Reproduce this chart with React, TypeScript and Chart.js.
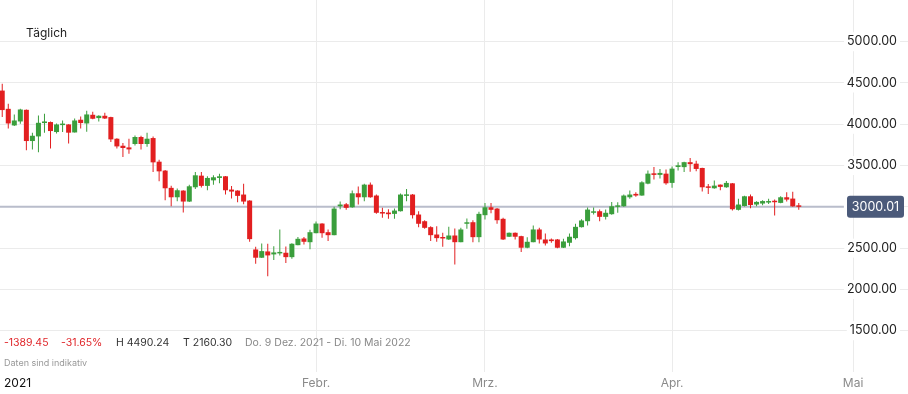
import React, { useEffect, useRef } from "react";
import { Chart, registerables } from "chart.js";

Chart.register(...registerables);

// Day index counted from 1 Dec 2021 (day 0); first candle = 11 Dec 2021
const firstDay = 10;

const opens = [
  4408, 4187, 3986, 4034, 4175, 3797, 3853, 4015, 4027, 3906,
  3990, 3998, 3901, 4055, 4010, 4115, 4075, 4103, 4087, 3825,
  3740, 3720, 3761, 3846, 3761, 3833, 3547, 3439, 3230, 3116,
  3197, 3064, 3237, 3378, 3254, 3321, 3350, 3370, 3209, 3197,
  3149, 3076, 2484, 2384, 2460, 2424, 2436, 2444, 2391, 2536,
  2617, 2572, 2681, 2798, 2693, 2657, 3007, 3031, 2995, 3164,
  3116, 3269, 3137, 2931, 2931, 2915, 2947, 3133, 3149, 2907,
  2826, 2754, 2665, 2633, 2605, 2653, 2572, 2795, 2814, 2633,
  2899, 2995, 2979, 2855, 2638, 2686, 2645, 2505, 2572, 2726,
  2605, 2605, 2605, 2505, 2565, 2621, 2754, 2826, 2928, 2947,
  2879, 2911, 3000, 3007, 3116, 3157, 3137, 3281, 3406, 3387,
  3402, 3290, 3483, 3481, 3541, 3523, 3471, 3245, 3225, 3269,
  3237, 3285, 2964, 3010, 3128, 3028, 3040, 3052, 3070, 3048,
  3116, 3100, 3016,
];

const highs = [
  4490.24, 4248, 4119, 4187, 4180, 3898, 4107, 4127, 4035, 4010,
  4046, 4000, 4070, 4094, 4163, 4151, 4110, 4139, 4092, 3830,
  3773, 3825, 3865, 3861, 3898, 3853, 3571, 3445, 3257, 3221,
  3200, 3269, 3423, 3423, 3370, 3382, 3402, 3375, 3254, 3200,
  3281, 3080, 2518, 2557, 2553, 2524, 2726, 2520, 2560, 2634,
  2634, 2722, 2822, 2800, 2726, 3000, 3064, 3048, 3197, 3245,
  3281, 3294, 3149, 2988, 2971, 2979, 3161, 3217, 3155, 2947,
  2838, 2766, 2766, 2686, 2758, 2738, 2746, 2859, 2838, 2940,
  3048, 3048, 2985, 2867, 2690, 2690, 2650, 2633, 2774, 2746,
  2677, 2617, 2610, 2613, 2677, 2795, 2850, 2992, 2992, 2967,
  2967, 3060, 3056, 3149, 3197, 3176, 3309, 3439, 3483, 3459,
  3451, 3490, 3539, 3547, 3592, 3559, 3475, 3278, 3318, 3272,
  3314, 3290, 3097, 3133, 3149, 3068, 3080, 3098, 3088, 3128,
  3176, 3182, 3046,
];

const lows = [
  4087, 3950, 3978, 4006, 3684, 3696, 3660, 3898, 3708, 3889,
  3906, 3768, 3901, 3950, 3910, 4060, 4034, 4065, 3785, 3708,
  3604, 3644, 3744, 3696, 3728, 3423, 3309, 3080, 3007, 3068,
  2931, 3060, 3217, 3233, 3201, 3269, 3285, 3149, 3100, 3056,
  3031, 2577, 2311, 2380, 2160.3, 2355, 2412, 2319, 2372, 2536,
  2545, 2488, 2681, 2626, 2585, 2655, 2971, 2964, 2990, 3028,
  3068, 3110, 2915, 2867, 2855, 2855, 2945, 3068, 2859, 2754,
  2734, 2585, 2577, 2517, 2600, 2303, 2570, 2734, 2572, 2572,
  2847, 2923, 2795, 2600, 2634, 2605, 2452, 2500, 2570, 2557,
  2532, 2565, 2500, 2502, 2524, 2605, 2750, 2774, 2907, 2826,
  2847, 2903, 2928, 3000, 3097, 3121, 3133, 3273, 3330, 3342,
  3269, 3230, 3439, 3423, 3426, 3430, 3185, 3157, 3220, 3201,
  3232, 2955, 2955, 3005, 2983, 3007, 3019, 3036, 2895, 3045,
  3064, 3000, 2965,
];

const closes = [
  4172, 4010, 4046, 4179, 3797, 3861, 4018, 4034, 3918, 3998,
  3998, 3898, 4046, 4015, 4119, 4067, 4103, 4070, 3817, 3732,
  3713, 3696, 3846, 3761, 3825, 3539, 3430, 3225, 3116, 3201,
  3064, 3249, 3382, 3254, 3350, 3358, 3370, 3201, 3185, 3133,
  3064, 2609, 2384, 2464, 2412, 2448, 2448, 2391, 2553, 2613,
  2577, 2693, 2798, 2681, 2657, 2979, 3028, 2988, 3164, 3116,
  3269, 3116, 2928, 2919, 2911, 2955, 3149, 3145, 2899, 2795,
  2746, 2657, 2621, 2617, 2653, 2572, 2726, 2807, 2633, 2915,
  2995, 2964, 2838, 2605, 2686, 2638, 2505, 2577, 2726, 2605,
  2557, 2585, 2505, 2581, 2638, 2758, 2835, 2967, 2943, 2879,
  2928, 3007, 3016, 3137, 3149, 3137, 3297, 3402, 3387, 3411,
  3285, 3463, 3503, 3541, 3517, 3459, 3237, 3230, 3257, 3242,
  3290, 2971, 3028, 3128, 3022, 3060, 3070, 3070, 3056, 3116,
  3088, 3006, 3000.01,
];

// Month ticks (day index from 1 Dec 2021)
const monthTicks = [62, 90, 121, 151];
const monthLabels = ["Febr.", "Mrz.", "Apr.", "Mai"];
const yTicks = [1500, 2000, 2500, 3000, 3500, 4000, 4500, 5000];
const lastPrice = 3000.01;

const UP = "#3a9e3c";
const DOWN = "#e21f20";
const FONT = "Inter, 'Noto Sans', sans-serif";

const priceLinePlugin = {
  id: "priceLine",
  beforeDatasetsDraw(chart: any) {
    const { ctx, chartArea, scales } = chart;
    const py = scales.y.getPixelForValue(lastPrice);
    ctx.save();
    ctx.strokeStyle = "#b9bdcb";
    ctx.lineWidth = 2;
    ctx.beginPath();
    ctx.moveTo(chartArea.left, py);
    ctx.lineTo(chartArea.right - 61, py);
    ctx.stroke();
    ctx.restore();
  },
  afterDraw(chart: any) {
    const { ctx, chartArea, scales } = chart;
    const py = scales.y.getPixelForValue(lastPrice);
    const w = 57;
    const h = 22;
    const x = chartArea.right - 61;
    const y = py - h / 2;
    ctx.save();
    ctx.fillStyle = "#4b5a7a";
    ctx.beginPath();
    (ctx as any).roundRect(x, y, w, h, 3);
    ctx.fill();
    ctx.fillStyle = "#ffffff";
    ctx.font = `12.5px ${FONT}`;
    ctx.textAlign = "center";
    ctx.textBaseline = "middle";
    ctx.fillText(lastPrice.toFixed(2), x + w / 2, py + 0.5);
    ctx.restore();
  },
};

export default function App() {
  const ref = useRef<HTMLCanvasElement | null>(null);

  useEffect(() => {
    if (!ref.current) return;
    const days = opens.map((_, i) => firstDay + i);
    const colors = opens.map((o, i) => (closes[i] >= o ? UP : DOWN));
    const bodies = days.map((d, i) => ({ x: d, y: [opens[i], closes[i]] }));
    const wicks = days.map((d, i) => ({ x: d, y: [lows[i], highs[i]] }));

    const chart = new Chart(ref.current, {
      type: "bar",
      data: {
        datasets: [
          {
            data: bodies as any,
            backgroundColor: colors,
            barThickness: 5,
            minBarLength: 1.5,
            grouped: false,
            borderWidth: 0,
            inflateAmount: 0,
          } as any,
          {
            data: wicks as any,
            backgroundColor: colors,
            barThickness: 1,
            grouped: false,
            borderWidth: 0,
            inflateAmount: 0,
          } as any,
        ],
      },
      options: {
        animation: false,
        responsive: false,
        events: [],
        layout: { padding: 0 },
        plugins: {
          legend: { display: false },
          tooltip: { enabled: false },
        },
        scales: {
          x: {
            type: "linear",
            min: 9.63,
            max: 160.1,
            offset: false,
            border: { display: false },
            grid: { color: "#ebebeb", lineWidth: 1, drawTicks: false, offset: false },
            afterBuildTicks: (s: any) => {
              s.ticks = monthTicks.map((v) => ({ value: v }));
            },
            afterFit: (s: any) => {
              s.height = 22;
              s.paddingLeft = 0;
              s.paddingRight = 0;
            },
            ticks: {
              autoSkip: false,
              maxRotation: 0,
              padding: 4,
              color: "#8a8a8a",
              font: { family: FONT, size: 12 },
              callback: (_v: any, i: number) => monthLabels[i],
            },
          },
          y: {
            type: "linear",
            position: "right",
            min: 1000,
            max: 5505,
            border: { display: false },
            grid: { color: "#ebebeb", lineWidth: 1, drawTicks: false },
            afterBuildTicks: (s: any) => {
              s.ticks = yTicks.map((v) => ({ value: v }));
            },
            afterFit: (s: any) => {
              s.width = 0;
              s.paddingTop = 0;
              s.paddingBottom = 0;
            },
            ticks: {
              mirror: true,
              padding: -11,
              z: 1,
              color: "#222222",
              font: { family: FONT, size: 12.5 },
              showLabelBackdrop: true,
              backdropColor: "#ffffff",
              backdropPadding: { left: 3, right: 3, top: 2, bottom: 2 },
              callback: (v: any) => Number(v).toFixed(2),
            },
          },
        },
      },
      plugins: [priceLinePlugin],
    } as any);
    return () => chart.destroy();
  }, []);

  const txt: React.CSSProperties = {
    position: "absolute",
    whiteSpace: "nowrap",
    fontFamily: FONT,
  };
  const stat: React.CSSProperties = { ...txt, top: 336, fontSize: 10.5, lineHeight: "14px" };

  return (
    <div style={{ position: "absolute", left: 0, top: 0, width: 908, height: 394, background: "#fff" }}>
      <canvas ref={ref} width={908} height={394} style={{ display: "block" }} />
      <div style={{ ...txt, left: 26, top: 25, fontSize: 12, lineHeight: "16px", color: "#222" }}>Täglich</div>
      <div style={{ ...stat, left: 4, color: "#e0262a" }}>-1389.45</div>
      <div style={{ ...stat, left: 61, color: "#e0262a" }}>-31.65%</div>
      <div style={{ ...stat, left: 116, color: "#333" }}>H 4490.24</div>
      <div style={{ ...stat, left: 183, color: "#333" }}>T 2160.30</div>
      <div style={{ ...stat, left: 245, color: "#888" }}>Do. 9 Dez. 2021 - Di. 10 Mai 2022</div>
      <div style={{ ...txt, left: 4, top: 357, fontSize: 9, lineHeight: "12px", color: "#999" }}>Daten sind indikativ</div>
      <div style={{ ...txt, left: 4, top: 375, fontSize: 12, lineHeight: "16px", color: "#111" }}>2021</div>
    </div>
  );
}
